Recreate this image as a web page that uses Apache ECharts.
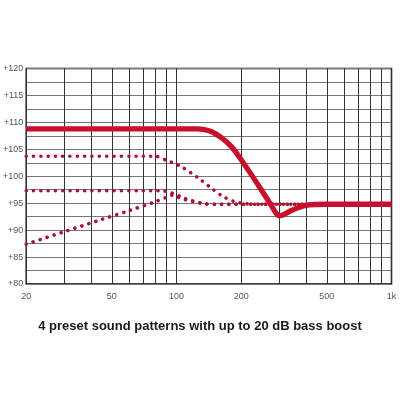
<!DOCTYPE html>
<html>
<head>
<meta charset="utf-8">
<script src="https://cdn.jsdelivr.net/npm/echarts@6/dist/echarts.min.js"></script>
<style>html,body{margin:0;padding:0;background:#fff}#c{width:400px;height:400px}</style>
</head>
<body>
<div id="c"></div>
<script>
const titleText = '4 preset sound patterns with up to 20 dB bass boost';
const xGridValues = [20, 30, 40, 50, 60, 70, 80, 90, 100, 200, 300, 400, 500, 600, 700, 800, 900, 1000];
const xLabelValues = [20, 50, 100, 200, 500, 1000];

const solidFreq = [20, 125, 133, 145, 161, 180, 203, 222, 247, 275, 295, 305, 340, 400, 500, 1000];
const solidDb   = [108.8, 108.8, 108.7, 108.3, 107.2, 105.5, 102.7, 100.4, 97.6, 94.7, 92.8, 92.7, 93.6, 94.6, 94.8, 94.8];

const dot1Freq = [20, 80, 88, 104, 126, 143, 162, 186, 210, 250, 1000];
const dot1Db   = [103.7, 103.7, 103.1, 101.9, 99.7, 98.0, 96.4, 95.3, 94.9, 94.8, 94.8];

const dot2Freq = [20, 85, 95, 108, 117, 135, 160, 1000];
const dot2Db   = [97.3, 97.3, 96.9, 96.0, 95.5, 94.9, 94.8, 94.8];

const dot3Freq = [20, 30, 45, 60, 80, 90, 95, 100, 109, 120, 135, 160, 1000];
const dot3Db   = [87.4, 89.7, 92.0, 93.6, 95.3, 96.1, 96.5, 96.2, 95.7, 95.3, 94.9, 94.8, 94.8];

const pair = (xs, ys) => xs.map((x, i) => [x, ys[i]]);

const dotStyle = {color: '#ad1030', width: 3.6, type: [0.01, 7.3], cap: 'round'};

const chart = echarts.init(document.getElementById('c'), null, {renderer: 'canvas'});
chart.setOption({
  animation: false,
  backgroundColor: '#fff',
  title: {
    text: titleText, left: 'center', top: 315,
    textStyle: {fontFamily: 'Liberation Sans', fontWeight: 'bold', fontSize: 13, color: '#1a1a1a'}
  },
  grid: {left: 23.5, right: 8.5, top: 68.5, bottom: 116, show: true, borderColor: '#000', borderWidth: 1.5, containLabel: false},
  xAxis: {
    type: 'log', logBase: 10, min: 20, max: 1000,
    axisLine: {show: false},
    axisTick: {show: false, customValues: xGridValues},
    splitLine: {show: true, lineStyle: {color: '#333', width: 1}},
    axisLabel: {customValues: xLabelValues, formatter: v => v >= 1000 ? '1k' : String(v), fontFamily: 'Liberation Sans', fontSize: 9, color: '#555', margin: 8}
  },
  yAxis: {
    type: 'value', min: 80, max: 120, interval: 2.5,
    axisLine: {show: false}, axisTick: {show: false},
    splitLine: {show: true, lineStyle: {color: '#777', width: 1}},
    axisLabel: {formatter: v => (v % 5 === 0 ? '+' + v : ''), fontFamily: 'Liberation Sans', fontSize: 9, color: '#555', margin: 3}
  },
  series: [
    {type: 'line', data: pair(dot1Freq, dot1Db), symbol: 'none', smooth: 0.3, lineStyle: dotStyle, z: 2},
    {type: 'line', data: pair(dot2Freq, dot2Db), symbol: 'none', smooth: 0.3, lineStyle: dotStyle, z: 2},
    {type: 'line', data: pair(dot3Freq, dot3Db), symbol: 'none', smooth: 0.3, lineStyle: dotStyle, z: 2},
    {type: 'line', data: pair(solidFreq, solidDb), symbol: 'none', smooth: 0.3, lineStyle: {color: '#c8102e', width: 5.3, cap: 'butt', join: 'round'}, z: 3}
  ]
});
</script>
</body>
</html>
